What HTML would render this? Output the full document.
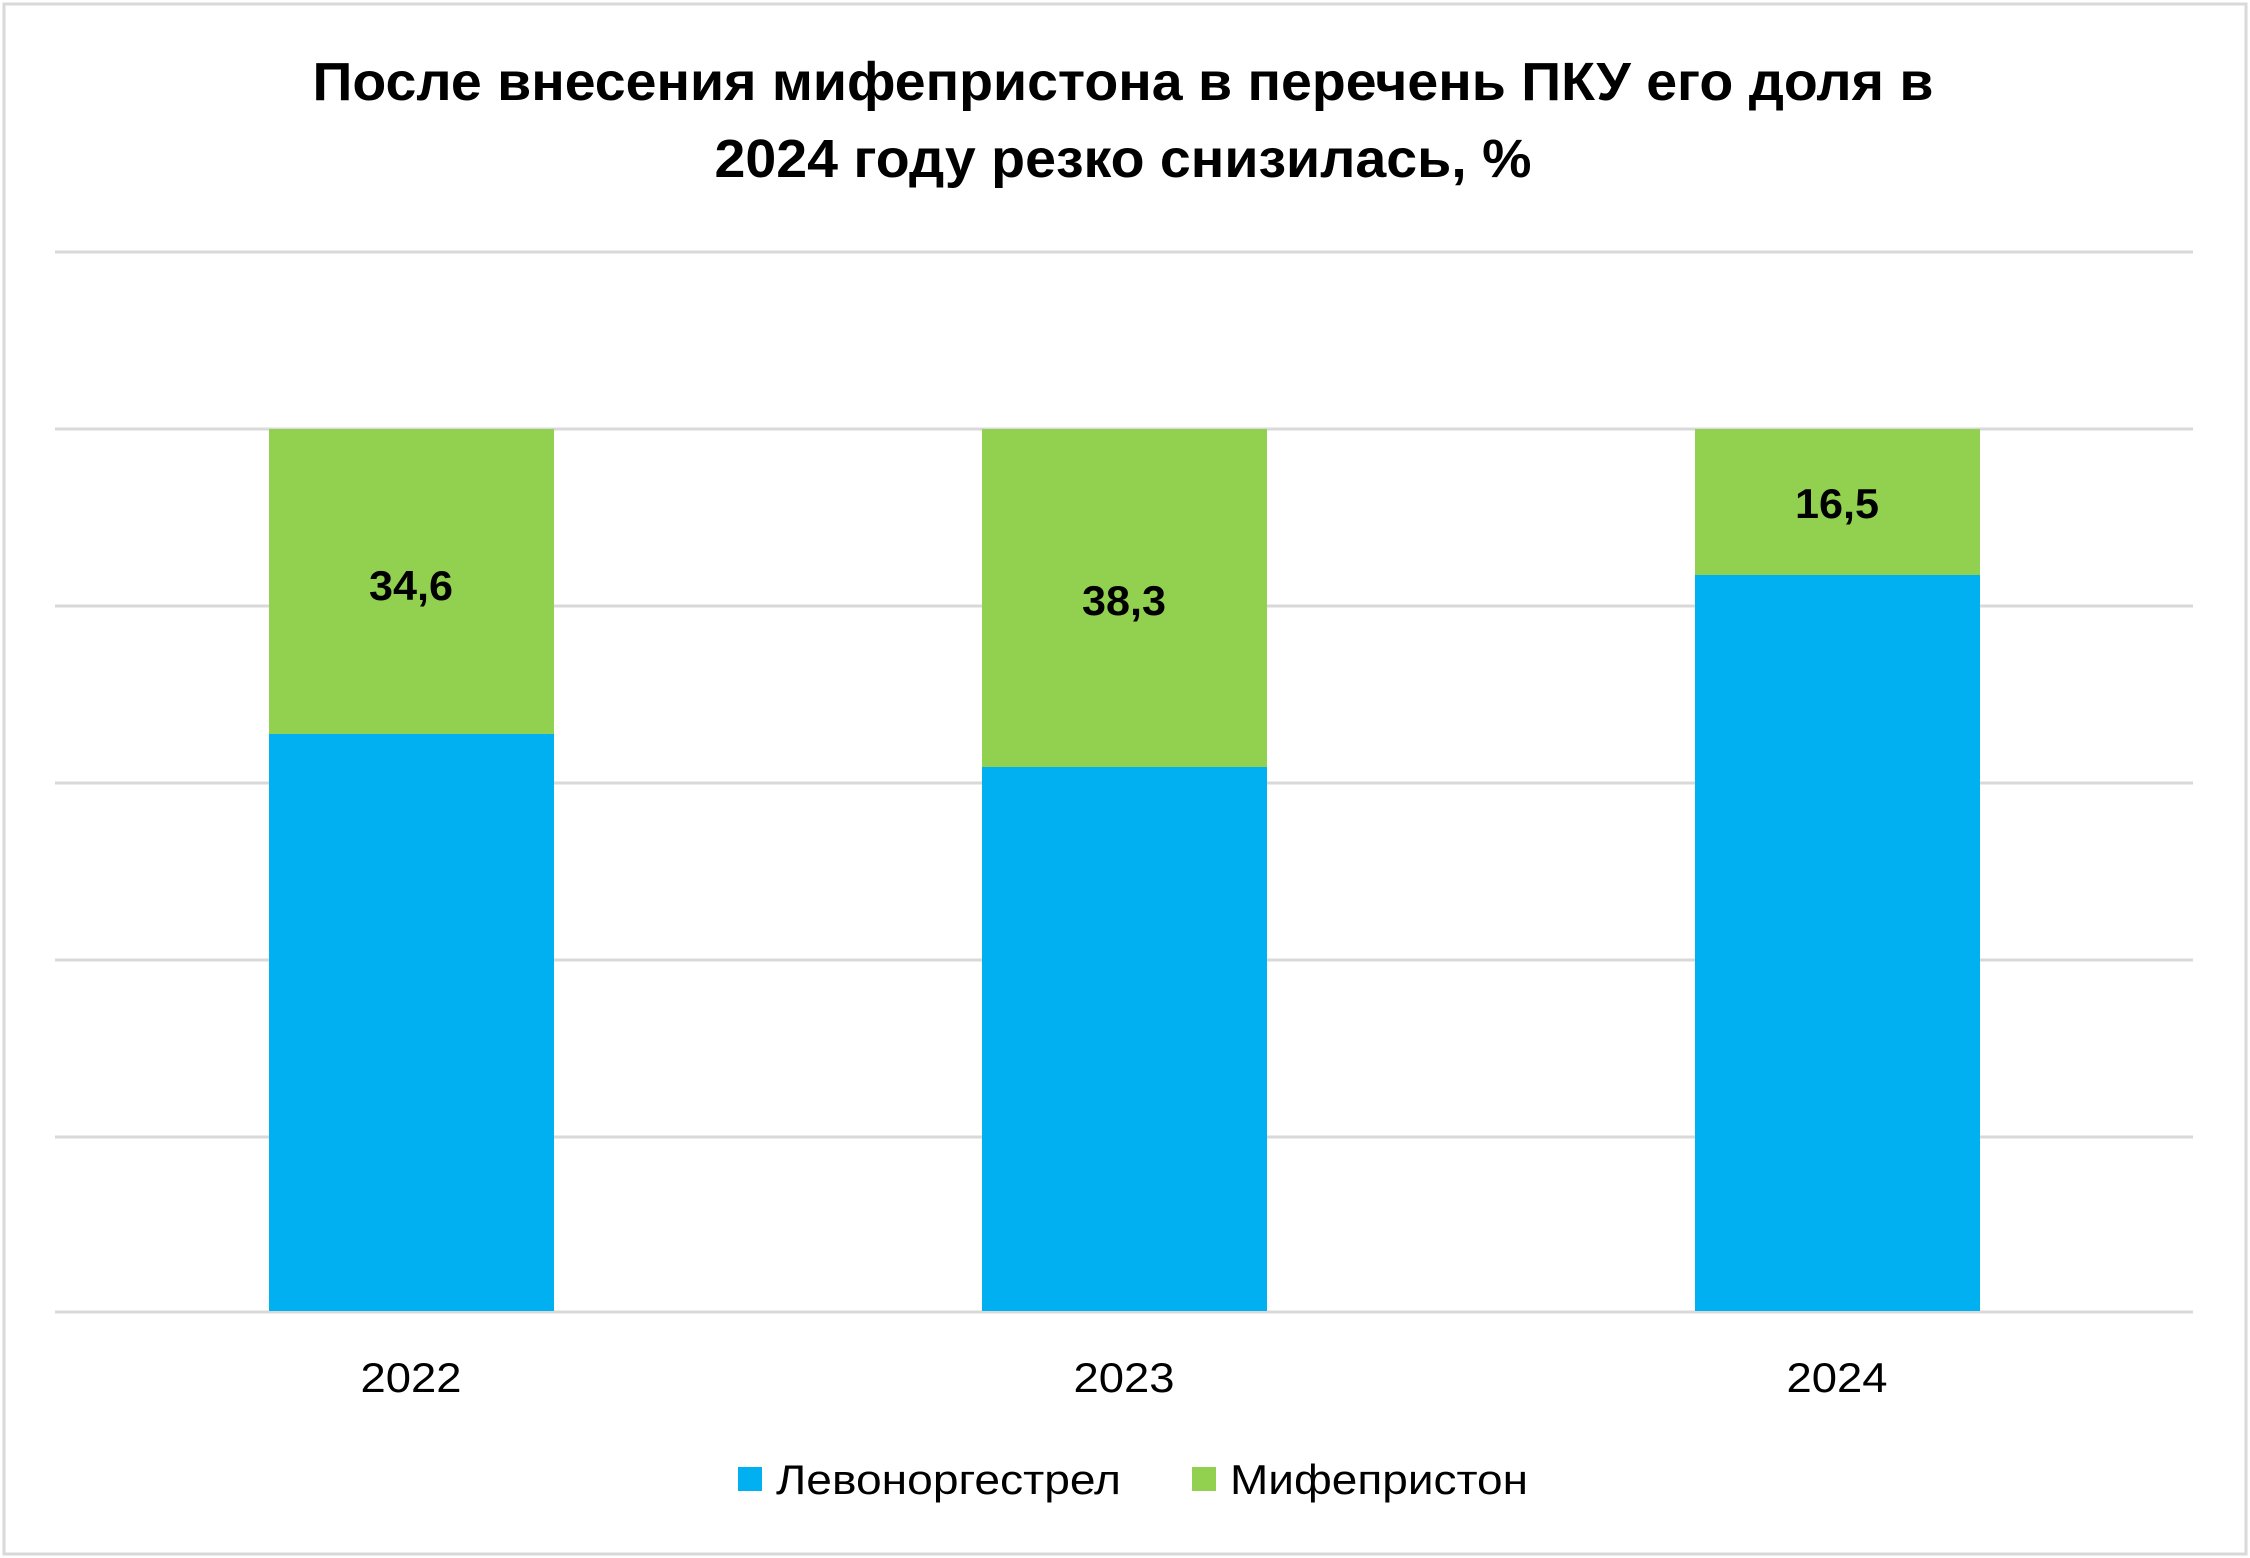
<!DOCTYPE html>
<html><head><meta charset="utf-8"><style>html,body{margin:0;padding:0;background:#fff}svg{display:block}</style></head>
<body>
<svg width="2250" height="1558" viewBox="0 0 2250 1558" xmlns="http://www.w3.org/2000/svg" font-family="'Liberation Sans', sans-serif">
<rect x="4" y="4" width="2242" height="1550" fill="#fff" stroke="#d9d9d9" stroke-width="3"/>
<text x="1123" y="100" text-anchor="middle" font-size="54" font-weight="bold" textLength="1621" lengthAdjust="spacingAndGlyphs">После внесения мифепристона в перечень ПКУ его доля в</text>
<text x="1123" y="177" text-anchor="middle" font-size="54" font-weight="bold" textLength="817" lengthAdjust="spacingAndGlyphs">2024 году резко снизилась, %</text>
<g stroke="#d9d9d9" stroke-width="3">
<line x1="55" x2="2193" y1="252" y2="252"/>
<line x1="55" x2="2193" y1="429" y2="429"/>
<line x1="55" x2="2193" y1="606" y2="606"/>
<line x1="55" x2="2193" y1="783" y2="783"/>
<line x1="55" x2="2193" y1="960" y2="960"/>
<line x1="55" x2="2193" y1="1137" y2="1137"/>
<line x1="55" x2="2193" y1="1312" y2="1312"/>
</g>
<rect x="269" y="429" width="285" height="305" fill="#92d050"/>
<rect x="269" y="734" width="285" height="577" fill="#00b0f0"/>
<rect x="982" y="429" width="285" height="338" fill="#92d050"/>
<rect x="982" y="767" width="285" height="544" fill="#00b0f0"/>
<rect x="1695" y="429" width="285" height="146" fill="#92d050"/>
<rect x="1695" y="575" width="285" height="736" fill="#00b0f0"/>
<g font-size="42" font-weight="bold" text-anchor="middle">
<text x="411" y="600" textLength="84" lengthAdjust="spacingAndGlyphs">34,6</text>
<text x="1124" y="615" textLength="84" lengthAdjust="spacingAndGlyphs">38,3</text>
<text x="1837" y="518" textLength="84" lengthAdjust="spacingAndGlyphs">16,5</text>
</g>
<g font-size="42" text-anchor="middle">
<text x="411" y="1392" textLength="101" lengthAdjust="spacingAndGlyphs">2022</text>
<text x="1124" y="1392" textLength="101" lengthAdjust="spacingAndGlyphs">2023</text>
<text x="1837" y="1392" textLength="101" lengthAdjust="spacingAndGlyphs">2024</text>
</g>
<rect x="738" y="1467" width="24" height="24" fill="#00b0f0"/>
<text x="776" y="1494" font-size="42" textLength="345" lengthAdjust="spacingAndGlyphs">Левоноргестрел</text>
<rect x="1192" y="1467" width="24" height="24" fill="#92d050"/>
<text x="1230" y="1494" font-size="42" textLength="298" lengthAdjust="spacingAndGlyphs">Мифепристон</text>
</svg>
</body></html>
